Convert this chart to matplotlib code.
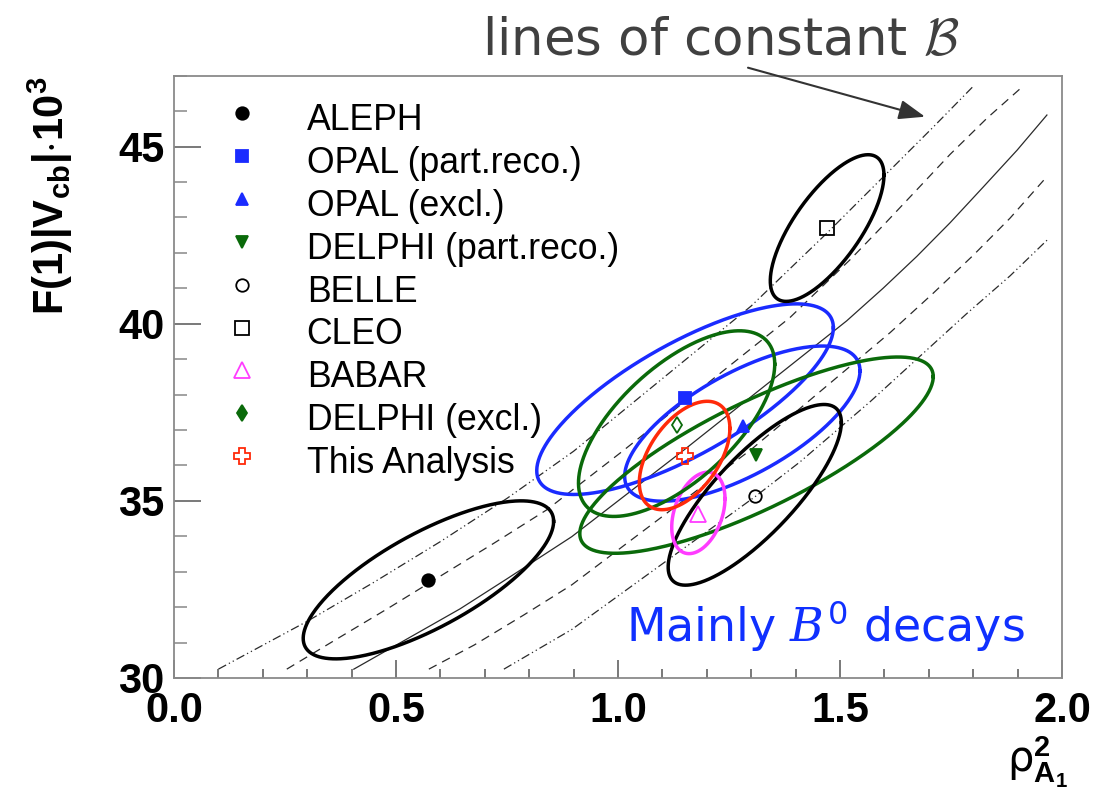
import numpy as np
import matplotlib
matplotlib.use("Agg")
import matplotlib.pyplot as plt
from matplotlib.ticker import MultipleLocator, FormatStrFormatter

plt.rcParams['font.family'] = ['DejaVu Sans']
plt.rcParams['mathtext.fontset'] = 'custom'
plt.rcParams['mathtext.rm'] = 'DejaVu Sans'
plt.rcParams['mathtext.it'] = 'DejaVu Serif:italic'
plt.rcParams['mathtext.bf'] = 'Liberation Sans:bold'

# ---- measurements: central values, errors and correlation ----
experiments = ['ALEPH', 'OPAL (part.reco.)', 'OPAL (excl.)', 'DELPHI (part.reco.)',
               'BELLE', 'CLEO', 'BABAR', 'DELPHI (excl.)', 'This Analysis']
rho2 = [0.573, 1.150, 1.281, 1.310, 1.309, 1.471, 1.181, 1.132, 1.151]
f_vcb = [32.77, 37.90, 37.12, 36.30, 35.13, 42.69, 34.62, 37.15, 36.27]
ell_rho2 = [0.573, 1.151, 1.280, 1.312, 1.308, 1.471, 1.181, 1.132, 1.150]
ell_fvcb = [32.77, 37.87, 37.18, 36.29, 35.17, 42.70, 34.66, 37.18, 36.28]
sig_rho2 = [0.282, 0.334, 0.265, 0.398, 0.195, 0.128, 0.060, 0.221, 0.102]
sig_fvcb = [2.23, 2.69, 2.19, 2.77, 2.55, 2.07, 1.15, 2.62, 1.53]
corr = [0.74, 0.75, 0.68, 0.80, 0.80, 0.72, 0.35, 0.64, 0.50]

colors = ['#000000', '#1a2bff', '#1a2bff', '#0a6a0a', '#000000', '#000000',
          '#ff3cff', '#0a6a0a', '#ff2a0a']
markers = ['o', 's', '^', 'v', 'o', 's', '^', 'd', 'P']
msizes = [9, 8.5, 9, 9, 9, 10, 11, 8, 11]
filled = [True, True, True, True, False, False, False, True, False]
filled_in_plot = [True, True, True, True, False, False, False, False, False]

# ---- lines of constant branching ratio ----
b1_rho2 = [0.10, 0.30, 0.45, 0.60, 0.75, 0.90, 1.30, 1.47, 1.61, 1.71, 1.80]
b1_fvcb = [30.25, 31.60, 32.70, 33.85, 35.07, 36.40, 40.50, 42.55, 44.30, 45.55, 46.70]
b2_rho2 = [0.254, 0.36, 0.48, 0.59, 0.72, 0.84, 1.01, 1.387, 1.523, 1.597, 1.673, 1.748, 1.831, 1.91]
b2_fvcb = [30.25, 31.05, 31.95, 32.80, 33.80, 34.75, 36.40, 40.17, 41.81, 42.77, 43.78, 44.78, 45.80, 46.68]
b3_rho2 = [0.405, 0.644, 0.75, 0.896, 1.15, 1.515, 1.597, 1.673, 1.748, 1.822, 1.899, 1.966]
b3_fvcb = [30.25, 31.95, 32.80, 33.99, 36.45, 40.08, 41.00, 41.90, 42.85, 43.85, 44.90, 45.89]
b4_rho2 = [0.574, 0.676, 0.788, 0.896, 1.30, 1.523, 1.613, 1.709, 1.80, 1.883, 1.968]
b4_fvcb = [30.25, 30.93, 31.78, 32.63, 36.45, 38.80, 39.75, 40.85, 41.93, 42.98, 44.18]
b5_rho2 = [0.743, 0.896, 1.309, 1.41, 1.568, 1.673, 1.785, 1.883, 1.969]
b5_fvcb = [30.25, 31.37, 35.12, 36.10, 37.80, 39.00, 40.28, 41.35, 42.39]

W, H = 1096, 794
fig = plt.figure(figsize=(W / 100, H / 100), dpi=100)
ax = fig.add_axes([174 / W, (H - 678) / H, (1062 - 174) / W, (678 - 75.7) / H])
ax.set_xlim(0, 2)
ax.set_ylim(30, 47)

dashdot = (0, (7, 2.5, 1, 2.5, 1, 2.5))
dashed = (0, (7, 5))
line_specs = [(b1_rho2, b1_fvcb, dashdot), (b2_rho2, b2_fvcb, dashed),
              (b3_rho2, b3_fvcb, '-'), (b4_rho2, b4_fvcb, dashed),
              (b5_rho2, b5_fvcb, dashdot)]
for xs, ys, ls in line_specs:
    ax.plot(xs, ys, ls=ls, color='#2a2a2a', lw=0.9, zorder=1)

# 1-sigma error ellipses
t = np.linspace(0, 2 * np.pi, 400)
for cx, cy, sx, sy, r, c in zip(ell_rho2, ell_fvcb, sig_rho2, sig_fvcb, corr, colors):
    ex = cx + sx * np.cos(t)
    ey = cy + sy * (r * np.cos(t) + np.sqrt(1 - r * r) * np.sin(t))
    ax.plot(ex, ey, color=c, lw=2.5, zorder=2)

for x, y, c, m, s, f in zip(rho2, f_vcb, colors, markers, msizes, filled_in_plot):
    ax.plot(x, y, marker=m, ms=s, color=c, mfc=c if f else 'none',
            mec=c, mew=1.3, ls='none', zorder=4)

# legend
for i, (name, c, m, s, f) in enumerate(zip(experiments, colors, markers, msizes, filled)):
    ypix = 113 + i * 42.9
    yax = (678 - ypix) / (678 - 75.7)
    ax.plot(0.0762, yax, marker=m, ms=s, color=c, mfc=c if f else 'none', mec=c,
            mew=1.3, transform=ax.transAxes, clip_on=False, zorder=5)
    ax.text(0.1494, (678 - ypix - 17) / (678 - 75.7), name, transform=ax.transAxes,
            fontsize=25.7, family='Liberation Sans', ha='left', va='baseline')

# axes styling
ax.xaxis.set_major_locator(MultipleLocator(0.5))
ax.xaxis.set_minor_locator(MultipleLocator(0.1))
ax.yaxis.set_major_locator(MultipleLocator(5))
ax.yaxis.set_minor_locator(MultipleLocator(1))
ax.xaxis.set_major_formatter(FormatStrFormatter('%.1f'))
ax.yaxis.set_major_formatter(FormatStrFormatter('%d'))
for sp in ax.spines.values():
    sp.set_color('#8a8a8a')
    sp.set_linewidth(1.3)
ax.tick_params(axis='both', which='both', direction='in', top=False, right=False,
               color='#555555', width=1.1)
ax.tick_params(axis='x', which='major', length=13, pad=9)
ax.tick_params(axis='x', which='minor', length=6.5)
ax.tick_params(axis='y', which='major', length=19.5, pad=7)
ax.tick_params(axis='y', which='minor', length=9.5, color='#888888')
for lab in ax.get_xticklabels() + ax.get_yticklabels():
    lab.set_fontsize(30)
    lab.set_fontweight('bold')
    lab.set_family('Liberation Sans')

fig.text(50 / W, 1 - 196 / H, r'$\mathbf{F(1)|V_{cb}|{\cdot}10^{3}}$', rotation=90,
         ha='center', va='center', fontsize=30)
fig.text(1037 / W, 1 - 762 / H, r'$\mathrm{\rho}^{\mathbf{2}}_{\mathbf{A_{1}}}$',
         ha='center', va='center', fontsize=30)

fig.text(482 / W, 1 - 55 / H, r'lines of constant $\mathcal{B}$', fontsize=37,
         color='#404040', ha='left', va='baseline', math_fontfamily='cm')
ax.annotate('', xy=(925, H - 116.7), xytext=(748, H - 67.7), xycoords='figure pixels',
            textcoords='figure pixels',
            arrowprops=dict(arrowstyle='-|>,head_length=1.6,head_width=0.6',
                            color='#333333', lw=1.5, shrinkA=0, shrinkB=0))
fig.text(626 / W, 1 - 641.7 / H, r'Mainly $B^0$ decays', fontsize=33, color='#1030ff',
         ha='left', va='baseline')

fig.savefig('out.png', dpi=100)
